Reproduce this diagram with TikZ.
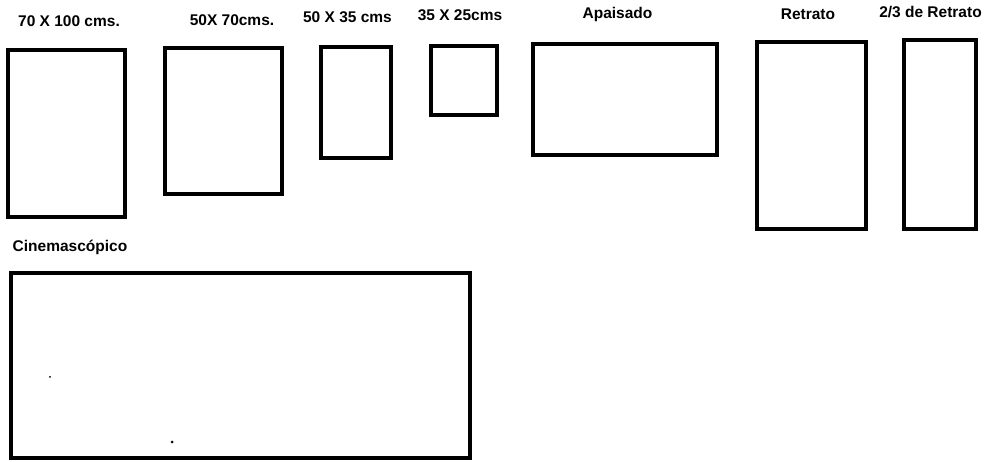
\documentclass[tikz,border=0pt]{standalone}
\usepackage{fontspec}
\setmainfont{Liberation Sans}
\begin{document}
\begin{tikzpicture}[x=1pt,y=-1pt,
  frame/.style={draw=black,line width=3.3pt,line join=miter},
  lbl/.style={anchor=base,inner sep=0pt,font=\fontsize{15.5}{18}\selectfont\bfseries}]
\useasboundingbox[fill=white] (0,0) rectangle (986,462);
% labels
\node[lbl] (l1) at (69,27) {70 X 100 cms.};
\node[lbl] (l2) at (232,26) {50X 70cms.};
\node[lbl] (l3) at (347.5,23) {50 X 35 cms};
\node[lbl] (l4) at (460,21) {35 X 25cms};
\node[lbl] (l5) at (617.5,19) {Apaisado};
\node[lbl] (l6) at (808,20) {Retrato};
\node[lbl] (l7) at (930.5,18) {2/3 de Retrato};
\node[lbl] (l8) at (70,252) {Cinemascópico};
% frames
\draw[frame] (8,50) rectangle (125,217);
\draw[frame] (165,48) rectangle (282,194);
\draw[frame] (321,47) rectangle (391,158);
\draw[frame] (431,46) rectangle (497,115);
\draw[frame] (533,44) rectangle (717,155);
\draw[frame] (757,42) rectangle (866,229);
\draw[frame] (904,40) rectangle (976,229);
\draw[frame] (11,273) rectangle (470,458);
% specks
\fill (50,377) circle (1.0);
\fill (172,442) circle (1.5);
\end{tikzpicture}
\end{document}
